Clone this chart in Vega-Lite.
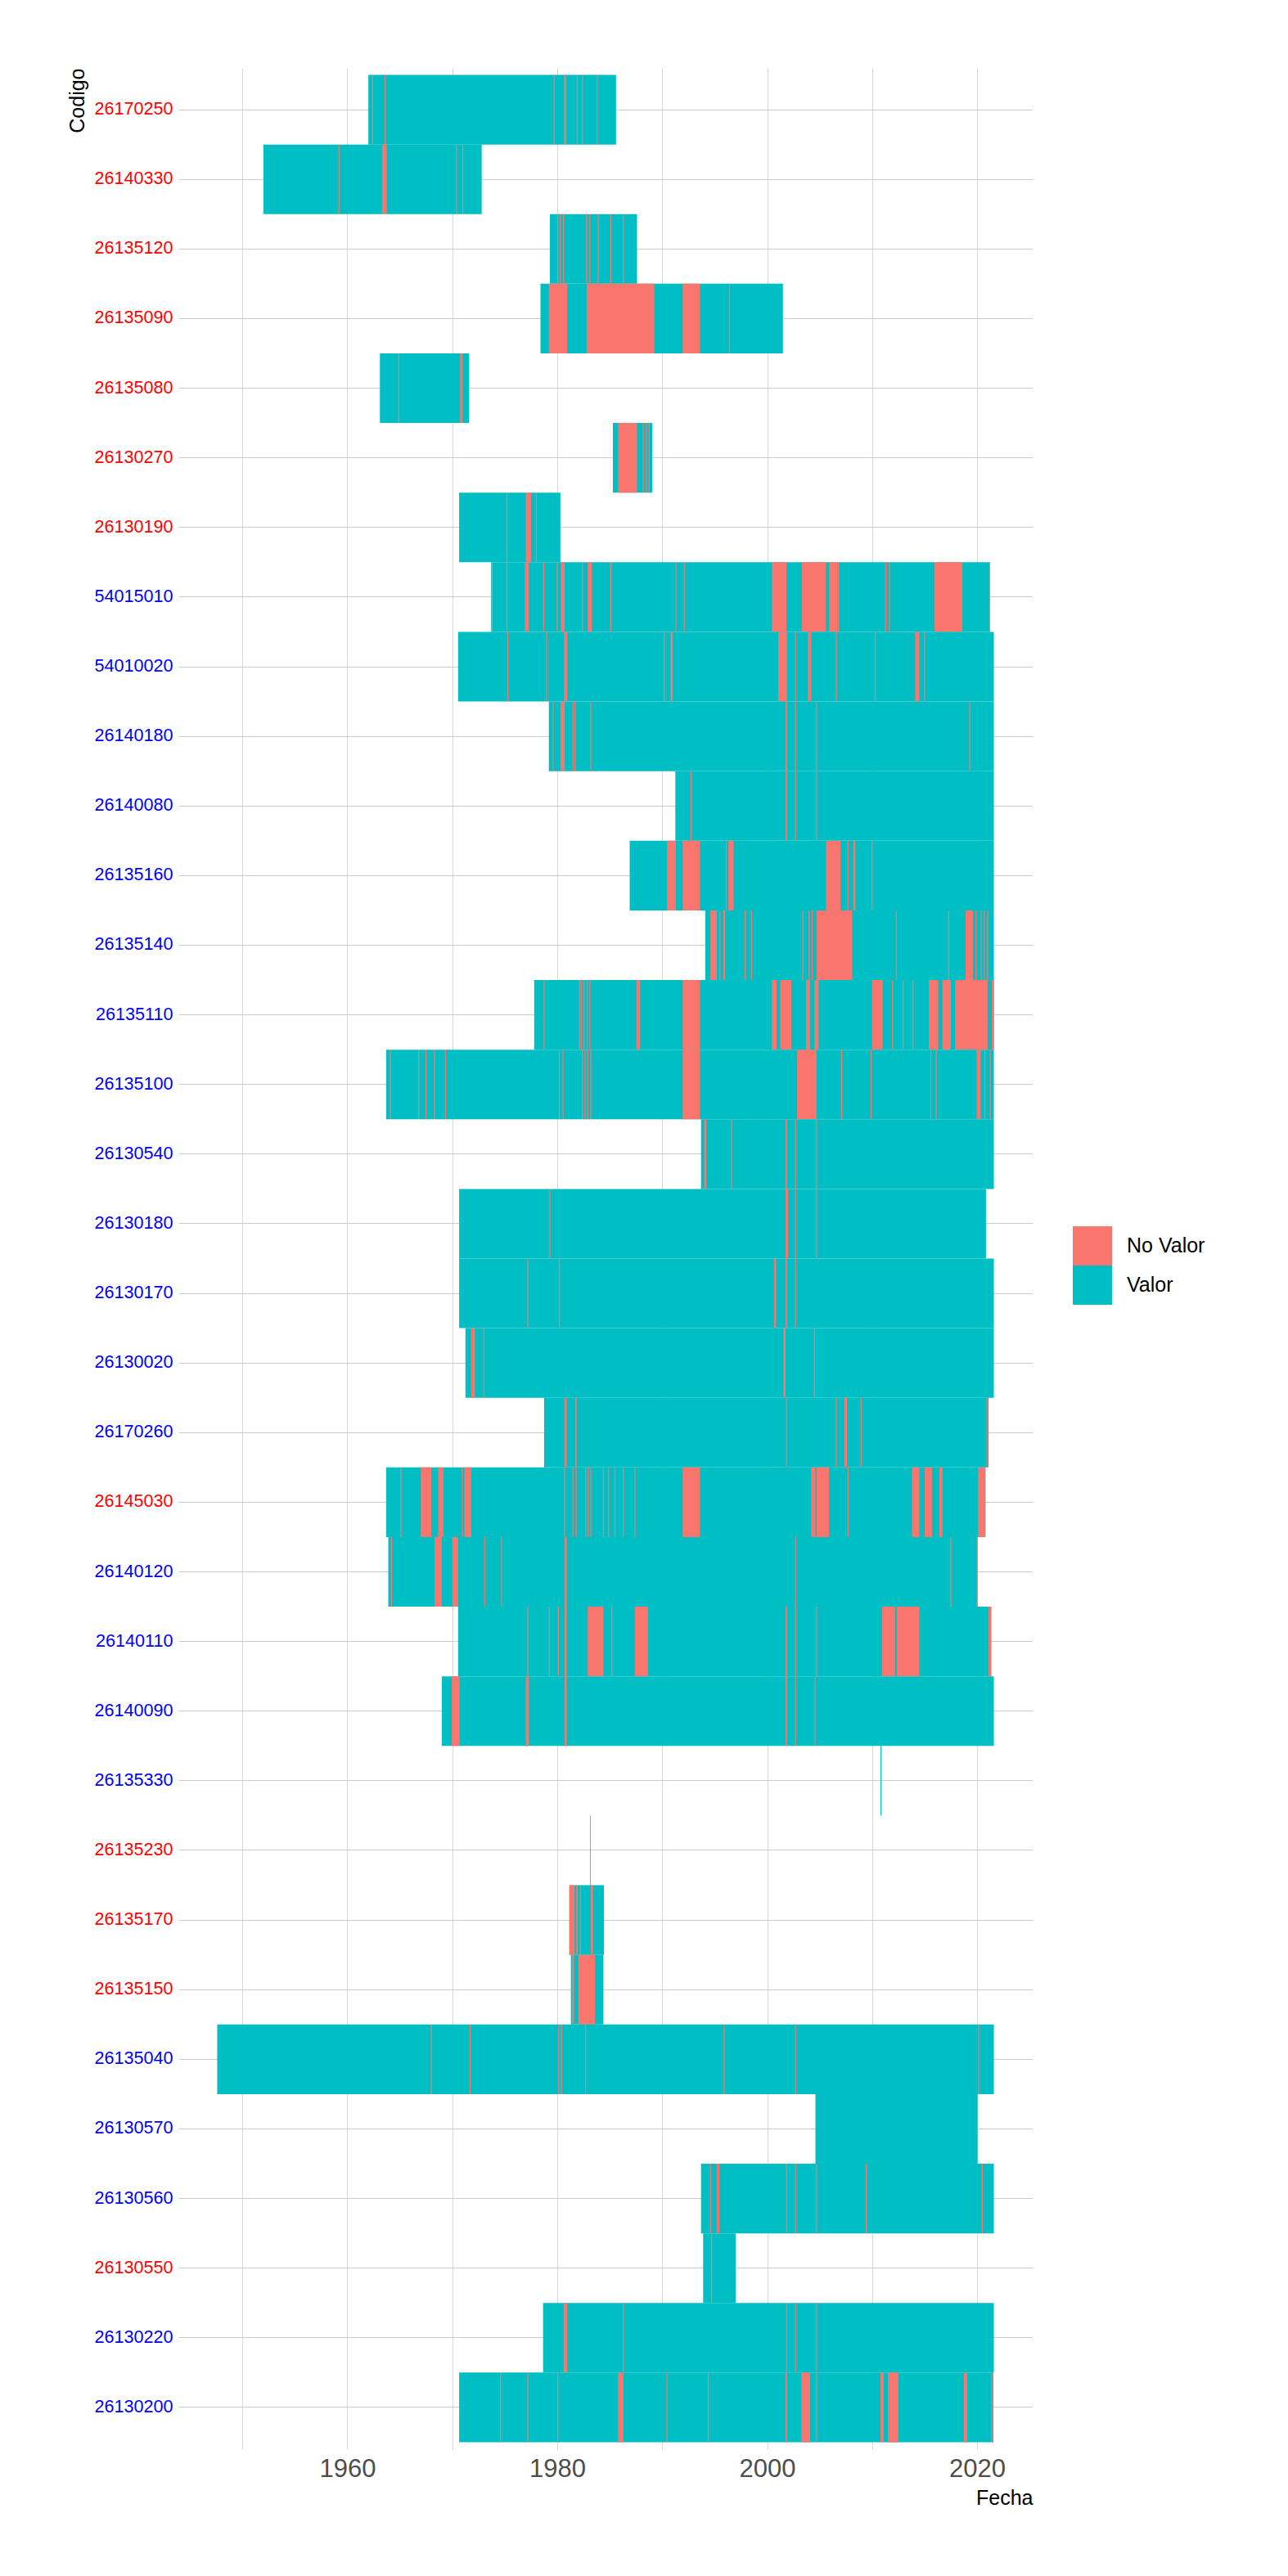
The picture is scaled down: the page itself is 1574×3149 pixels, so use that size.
{
"$schema": "https://vega.github.io/schema/vega-lite/v6.json",
"width": 1044, "height": 2911,
"autosize": {"type": "none"},
"padding": {"left": 218, "top": 83, "right": 312, "bottom": 155},
"background": "white",
"config": {"view": {"stroke": null}, "font": "Liberation Sans"},
"data": {"values": [
{"c":"26170250","s":1962.0,"e":1985.6,"v":"Valor"},
{"c":"26170250","s":1962.35,"e":1962.45,"v":"No Valor"},
{"c":"26170250","s":1963.55,"e":1963.65,"v":"No Valor"},
{"c":"26170250","s":1979.65,"e":1979.75,"v":"No Valor"},
{"c":"26170250","s":1980.65,"e":1980.85,"v":"No Valor"},
{"c":"26170250","s":1981.85,"e":1981.95,"v":"No Valor"},
{"c":"26170250","s":1982.35,"e":1982.45,"v":"No Valor"},
{"c":"26170250","s":1983.75,"e":1983.85,"v":"No Valor"},
{"c":"26140330","s":1952.0,"e":1972.8,"v":"Valor"},
{"c":"26140330","s":1959.15,"e":1959.25,"v":"No Valor"},
{"c":"26140330","s":1963.3,"e":1963.75,"v":"No Valor"},
{"c":"26140330","s":1970.35,"e":1970.45,"v":"No Valor"},
{"c":"26140330","s":1970.95,"e":1971.05,"v":"No Valor"},
{"c":"26135120","s":1979.3,"e":1987.6,"v":"Valor"},
{"c":"26135120","s":1980.0,"e":1980.1,"v":"No Valor"},
{"c":"26135120","s":1980.25,"e":1980.35,"v":"No Valor"},
{"c":"26135120","s":1980.55,"e":1980.65,"v":"No Valor"},
{"c":"26135120","s":1982.75,"e":1982.85,"v":"No Valor"},
{"c":"26135120","s":1983.05,"e":1983.15,"v":"No Valor"},
{"c":"26135120","s":1983.85,"e":1983.95,"v":"No Valor"},
{"c":"26135120","s":1985.05,"e":1985.15,"v":"No Valor"},
{"c":"26135120","s":1986.25,"e":1986.35,"v":"No Valor"},
{"c":"26135090","s":1978.4,"e":2001.5,"v":"Valor"},
{"c":"26135090","s":1979.2,"e":1980.95,"v":"No Valor"},
{"c":"26135090","s":1982.8,"e":1989.25,"v":"No Valor"},
{"c":"26135090","s":1991.95,"e":1993.6,"v":"No Valor"},
{"c":"26135090","s":1996.35,"e":1996.45,"v":"No Valor"},
{"c":"26135080","s":1963.1,"e":1971.6,"v":"Valor"},
{"c":"26135080","s":1964.85,"e":1964.95,"v":"No Valor"},
{"c":"26135080","s":1970.75,"e":1970.95,"v":"No Valor"},
{"c":"26130270","s":1985.3,"e":1989.05,"v":"Valor"},
{"c":"26130270","s":1985.8,"e":1987.6,"v":"No Valor"},
{"c":"26130270","s":1988.15,"e":1988.25,"v":"No Valor"},
{"c":"26130270","s":1988.45,"e":1988.55,"v":"No Valor"},
{"c":"26130270","s":1988.7,"e":1988.8,"v":"No Valor"},
{"c":"26130190","s":1970.65,"e":1980.3,"v":"Valor"},
{"c":"26130190","s":1975.15,"e":1975.25,"v":"No Valor"},
{"c":"26130190","s":1977.0,"e":1977.5,"v":"No Valor"},
{"c":"26130190","s":1977.95,"e":1978.05,"v":"No Valor"},
{"c":"54015010","s":1973.7,"e":2021.25,"v":"Valor"},
{"c":"54015010","s":1973.75,"e":1973.85,"v":"No Valor"},
{"c":"54015010","s":1975.15,"e":1975.25,"v":"No Valor"},
{"c":"54015010","s":1976.9,"e":1977.3,"v":"No Valor"},
{"c":"54015010","s":1978.65,"e":1978.75,"v":"No Valor"},
{"c":"54015010","s":1979.95,"e":1980.05,"v":"No Valor"},
{"c":"54015010","s":1980.35,"e":1980.7,"v":"No Valor"},
{"c":"54015010","s":1982.35,"e":1982.45,"v":"No Valor"},
{"c":"54015010","s":1982.9,"e":1983.3,"v":"No Valor"},
{"c":"54015010","s":1985.05,"e":1985.15,"v":"No Valor"},
{"c":"54015010","s":1991.25,"e":1991.35,"v":"No Valor"},
{"c":"54015010","s":1992.05,"e":1992.15,"v":"No Valor"},
{"c":"54015010","s":2000.45,"e":2001.85,"v":"No Valor"},
{"c":"54015010","s":2003.3,"e":2005.6,"v":"No Valor"},
{"c":"54015010","s":2005.9,"e":2006.7,"v":"No Valor"},
{"c":"54015010","s":2006.75,"e":2006.85,"v":"No Valor"},
{"c":"54015010","s":2011.25,"e":2011.35,"v":"No Valor"},
{"c":"54015010","s":2011.6,"e":2011.7,"v":"No Valor"},
{"c":"54015010","s":2015.95,"e":2018.6,"v":"No Valor"},
{"c":"54015010","s":2021.15,"e":2021.25,"v":"No Valor"},
{"c":"54010020","s":1970.55,"e":2021.6,"v":"Valor"},
{"c":"54010020","s":1975.25,"e":1975.35,"v":"No Valor"},
{"c":"54010020","s":1978.95,"e":1979.05,"v":"No Valor"},
{"c":"54010020","s":1980.65,"e":1980.95,"v":"No Valor"},
{"c":"54010020","s":1990.15,"e":1990.25,"v":"No Valor"},
{"c":"54010020","s":1990.8,"e":1991.0,"v":"No Valor"},
{"c":"54010020","s":2001.05,"e":2001.9,"v":"No Valor"},
{"c":"54010020","s":2002.65,"e":2002.75,"v":"No Valor"},
{"c":"54010020","s":2003.9,"e":2004.2,"v":"No Valor"},
{"c":"54010020","s":2006.55,"e":2006.65,"v":"No Valor"},
{"c":"54010020","s":2010.25,"e":2010.35,"v":"No Valor"},
{"c":"54010020","s":2014.1,"e":2014.5,"v":"No Valor"},
{"c":"54010020","s":2014.95,"e":2015.05,"v":"No Valor"},
{"c":"26140180","s":1979.2,"e":2021.6,"v":"Valor"},
{"c":"26140180","s":1979.55,"e":1979.65,"v":"No Valor"},
{"c":"26140180","s":1980.3,"e":1980.7,"v":"No Valor"},
{"c":"26140180","s":1981.45,"e":1981.55,"v":"No Valor"},
{"c":"26140180","s":1981.65,"e":1981.75,"v":"No Valor"},
{"c":"26140180","s":1983.15,"e":1983.25,"v":"No Valor"},
{"c":"26140180","s":2001.75,"e":2001.9,"v":"No Valor"},
{"c":"26140180","s":2002.65,"e":2002.75,"v":"No Valor"},
{"c":"26140180","s":2004.65,"e":2004.75,"v":"No Valor"},
{"c":"26140180","s":2019.25,"e":2019.35,"v":"No Valor"},
{"c":"26140080","s":1991.25,"e":2021.6,"v":"Valor"},
{"c":"26140080","s":1992.7,"e":1992.8,"v":"No Valor"},
{"c":"26140080","s":2001.75,"e":2001.9,"v":"No Valor"},
{"c":"26140080","s":2002.65,"e":2002.75,"v":"No Valor"},
{"c":"26140080","s":2004.65,"e":2004.75,"v":"No Valor"},
{"c":"26135160","s":1986.9,"e":2021.6,"v":"Valor"},
{"c":"26135160","s":1990.45,"e":1991.3,"v":"No Valor"},
{"c":"26135160","s":1991.95,"e":1993.6,"v":"No Valor"},
{"c":"26135160","s":1996.05,"e":1996.15,"v":"No Valor"},
{"c":"26135160","s":1996.3,"e":1996.8,"v":"No Valor"},
{"c":"26135160","s":2005.6,"e":2007.0,"v":"No Valor"},
{"c":"26135160","s":2007.65,"e":2007.75,"v":"No Valor"},
{"c":"26135160","s":2008.2,"e":2008.4,"v":"No Valor"},
{"c":"26135160","s":2009.95,"e":2010.05,"v":"No Valor"},
{"c":"26135140","s":1994.1,"e":2021.6,"v":"Valor"},
{"c":"26135140","s":1994.6,"e":1995.2,"v":"No Valor"},
{"c":"26135140","s":1995.45,"e":1995.55,"v":"No Valor"},
{"c":"26135140","s":1995.8,"e":1996.0,"v":"No Valor"},
{"c":"26135140","s":1997.85,"e":1997.95,"v":"No Valor"},
{"c":"26135140","s":1998.45,"e":1998.55,"v":"No Valor"},
{"c":"26135140","s":2003.35,"e":2003.45,"v":"No Valor"},
{"c":"26135140","s":2003.95,"e":2004.05,"v":"No Valor"},
{"c":"26135140","s":2004.25,"e":2004.35,"v":"No Valor"},
{"c":"26135140","s":2004.7,"e":2008.1,"v":"No Valor"},
{"c":"26135140","s":2012.25,"e":2012.35,"v":"No Valor"},
{"c":"26135140","s":2017.25,"e":2017.35,"v":"No Valor"},
{"c":"26135140","s":2018.9,"e":2019.6,"v":"No Valor"},
{"c":"26135140","s":2019.85,"e":2019.95,"v":"No Valor"},
{"c":"26135140","s":2020.35,"e":2020.45,"v":"No Valor"},
{"c":"26135140","s":2020.65,"e":2020.75,"v":"No Valor"},
{"c":"26135140","s":2020.95,"e":2021.05,"v":"No Valor"},
{"c":"26135110","s":1977.8,"e":2021.6,"v":"Valor"},
{"c":"26135110","s":1978.7,"e":1978.8,"v":"No Valor"},
{"c":"26135110","s":1982.05,"e":1982.15,"v":"No Valor"},
{"c":"26135110","s":1982.25,"e":1982.35,"v":"No Valor"},
{"c":"26135110","s":1982.5,"e":1982.6,"v":"No Valor"},
{"c":"26135110","s":1982.8,"e":1982.9,"v":"No Valor"},
{"c":"26135110","s":1983.05,"e":1983.15,"v":"No Valor"},
{"c":"26135110","s":1987.55,"e":1987.9,"v":"No Valor"},
{"c":"26135110","s":1991.95,"e":1993.6,"v":"No Valor"},
{"c":"26135110","s":2000.45,"e":2000.9,"v":"No Valor"},
{"c":"26135110","s":2001.25,"e":2002.3,"v":"No Valor"},
{"c":"26135110","s":2003.7,"e":2004.1,"v":"No Valor"},
{"c":"26135110","s":2004.5,"e":2004.9,"v":"No Valor"},
{"c":"26135110","s":2010.0,"e":2011.0,"v":"No Valor"},
{"c":"26135110","s":2011.9,"e":2012.0,"v":"No Valor"},
{"c":"26135110","s":2012.9,"e":2013.0,"v":"No Valor"},
{"c":"26135110","s":2013.85,"e":2013.95,"v":"No Valor"},
{"c":"26135110","s":2015.4,"e":2016.3,"v":"No Valor"},
{"c":"26135110","s":2016.7,"e":2017.5,"v":"No Valor"},
{"c":"26135110","s":2017.9,"e":2021.0,"v":"No Valor"},
{"c":"26135110","s":2021.4,"e":2021.6,"v":"No Valor"},
{"c":"26135100","s":1963.7,"e":2021.6,"v":"Valor"},
{"c":"26135100","s":1964.05,"e":1964.15,"v":"No Valor"},
{"c":"26135100","s":1966.75,"e":1966.85,"v":"No Valor"},
{"c":"26135100","s":1967.45,"e":1967.55,"v":"No Valor"},
{"c":"26135100","s":1968.25,"e":1968.35,"v":"No Valor"},
{"c":"26135100","s":1969.3,"e":1969.4,"v":"No Valor"},
{"c":"26135100","s":1980.15,"e":1980.25,"v":"No Valor"},
{"c":"26135100","s":1980.5,"e":1980.6,"v":"No Valor"},
{"c":"26135100","s":1982.35,"e":1982.45,"v":"No Valor"},
{"c":"26135100","s":1982.6,"e":1982.7,"v":"No Valor"},
{"c":"26135100","s":1982.85,"e":1982.95,"v":"No Valor"},
{"c":"26135100","s":1983.15,"e":1983.25,"v":"No Valor"},
{"c":"26135100","s":1991.95,"e":1993.6,"v":"No Valor"},
{"c":"26135100","s":2002.85,"e":2004.7,"v":"No Valor"},
{"c":"26135100","s":2007.05,"e":2007.15,"v":"No Valor"},
{"c":"26135100","s":2009.85,"e":2009.95,"v":"No Valor"},
{"c":"26135100","s":2015.55,"e":2015.65,"v":"No Valor"},
{"c":"26135100","s":2016.05,"e":2016.15,"v":"No Valor"},
{"c":"26135100","s":2019.95,"e":2020.35,"v":"No Valor"},
{"c":"26135100","s":2020.7,"e":2020.8,"v":"No Valor"},
{"c":"26135100","s":2021.2,"e":2021.3,"v":"No Valor"},
{"c":"26130540","s":1993.7,"e":2021.6,"v":"Valor"},
{"c":"26130540","s":1994.0,"e":1994.2,"v":"No Valor"},
{"c":"26130540","s":1996.55,"e":1996.65,"v":"No Valor"},
{"c":"26130540","s":2001.75,"e":2001.9,"v":"No Valor"},
{"c":"26130540","s":2002.65,"e":2002.75,"v":"No Valor"},
{"c":"26130540","s":2004.65,"e":2004.75,"v":"No Valor"},
{"c":"26130180","s":1970.65,"e":2020.85,"v":"Valor"},
{"c":"26130180","s":1979.25,"e":1979.35,"v":"No Valor"},
{"c":"26130180","s":2001.75,"e":2002.0,"v":"No Valor"},
{"c":"26130180","s":2002.65,"e":2002.75,"v":"No Valor"},
{"c":"26130180","s":2004.65,"e":2004.75,"v":"No Valor"},
{"c":"26130170","s":1970.65,"e":2021.6,"v":"Valor"},
{"c":"26130170","s":1977.15,"e":1977.25,"v":"No Valor"},
{"c":"26130170","s":1980.15,"e":1980.25,"v":"No Valor"},
{"c":"26130170","s":2000.65,"e":2000.85,"v":"No Valor"},
{"c":"26130170","s":2001.75,"e":2001.9,"v":"No Valor"},
{"c":"26130170","s":2002.65,"e":2002.75,"v":"No Valor"},
{"c":"26130020","s":1971.25,"e":2021.6,"v":"Valor"},
{"c":"26130020","s":1971.8,"e":1972.15,"v":"No Valor"},
{"c":"26130020","s":1972.95,"e":1973.05,"v":"No Valor"},
{"c":"26130020","s":2001.55,"e":2001.75,"v":"No Valor"},
{"c":"26130020","s":2004.45,"e":2004.55,"v":"No Valor"},
{"c":"26170260","s":1978.75,"e":2021.1,"v":"Valor"},
{"c":"26170260","s":1980.7,"e":1980.9,"v":"No Valor"},
{"c":"26170260","s":1981.7,"e":1981.85,"v":"No Valor"},
{"c":"26170260","s":2001.8,"e":2001.9,"v":"No Valor"},
{"c":"26170260","s":2006.55,"e":2006.65,"v":"No Valor"},
{"c":"26170260","s":2007.35,"e":2007.6,"v":"No Valor"},
{"c":"26170260","s":2008.9,"e":2009.0,"v":"No Valor"},
{"c":"26170260","s":2020.9,"e":2021.0,"v":"No Valor"},
{"c":"26145030","s":1963.7,"e":2020.8,"v":"Valor"},
{"c":"26145030","s":1965.05,"e":1965.15,"v":"No Valor"},
{"c":"26145030","s":1967.0,"e":1968.0,"v":"No Valor"},
{"c":"26145030","s":1968.65,"e":1969.15,"v":"No Valor"},
{"c":"26145030","s":1970.9,"e":1971.0,"v":"No Valor"},
{"c":"26145030","s":1971.15,"e":1971.8,"v":"No Valor"},
{"c":"26145030","s":1980.65,"e":1980.75,"v":"No Valor"},
{"c":"26145030","s":1981.45,"e":1981.55,"v":"No Valor"},
{"c":"26145030","s":1981.75,"e":1981.85,"v":"No Valor"},
{"c":"26145030","s":1982.65,"e":1982.75,"v":"No Valor"},
{"c":"26145030","s":1982.9,"e":1983.0,"v":"No Valor"},
{"c":"26145030","s":1983.15,"e":1983.25,"v":"No Valor"},
{"c":"26145030","s":1984.35,"e":1984.45,"v":"No Valor"},
{"c":"26145030","s":1984.85,"e":1984.95,"v":"No Valor"},
{"c":"26145030","s":1985.45,"e":1985.55,"v":"No Valor"},
{"c":"26145030","s":1986.25,"e":1986.35,"v":"No Valor"},
{"c":"26145030","s":1987.35,"e":1987.45,"v":"No Valor"},
{"c":"26145030","s":1991.95,"e":1993.6,"v":"No Valor"},
{"c":"26145030","s":2004.2,"e":2004.6,"v":"No Valor"},
{"c":"26145030","s":2004.7,"e":2005.9,"v":"No Valor"},
{"c":"26145030","s":2007.65,"e":2007.75,"v":"No Valor"},
{"c":"26145030","s":2013.8,"e":2014.5,"v":"No Valor"},
{"c":"26145030","s":2015.0,"e":2015.7,"v":"No Valor"},
{"c":"26145030","s":2016.4,"e":2016.7,"v":"No Valor"},
{"c":"26145030","s":2020.1,"e":2020.8,"v":"No Valor"},
{"c":"26140120","s":1963.9,"e":2020.05,"v":"Valor"},
{"c":"26140120","s":1964.15,"e":1964.25,"v":"No Valor"},
{"c":"26140120","s":1968.3,"e":1969.0,"v":"No Valor"},
{"c":"26140120","s":1970.0,"e":1970.55,"v":"No Valor"},
{"c":"26140120","s":1973.05,"e":1973.15,"v":"No Valor"},
{"c":"26140120","s":1974.65,"e":1974.75,"v":"No Valor"},
{"c":"26140120","s":1980.7,"e":1980.9,"v":"No Valor"},
{"c":"26140120","s":2002.65,"e":2002.75,"v":"No Valor"},
{"c":"26140120","s":2017.45,"e":2017.55,"v":"No Valor"},
{"c":"26140120","s":2019.95,"e":2020.05,"v":"No Valor"},
{"c":"26140110","s":1970.55,"e":2021.35,"v":"Valor"},
{"c":"26140110","s":1977.15,"e":1977.25,"v":"No Valor"},
{"c":"26140110","s":1979.2,"e":1979.3,"v":"No Valor"},
{"c":"26140110","s":1980.05,"e":1980.15,"v":"No Valor"},
{"c":"26140110","s":1980.7,"e":1980.9,"v":"No Valor"},
{"c":"26140110","s":1982.9,"e":1984.4,"v":"No Valor"},
{"c":"26140110","s":1985.15,"e":1985.25,"v":"No Valor"},
{"c":"26140110","s":1987.4,"e":1988.65,"v":"No Valor"},
{"c":"26140110","s":2001.75,"e":2001.9,"v":"No Valor"},
{"c":"26140110","s":2002.65,"e":2002.75,"v":"No Valor"},
{"c":"26140110","s":2004.65,"e":2004.75,"v":"No Valor"},
{"c":"26140110","s":2010.95,"e":2012.2,"v":"No Valor"},
{"c":"26140110","s":2012.35,"e":2014.5,"v":"No Valor"},
{"c":"26140110","s":2021.1,"e":2021.35,"v":"No Valor"},
{"c":"26140090","s":1969.0,"e":2021.6,"v":"Valor"},
{"c":"26140090","s":1969.95,"e":1970.7,"v":"No Valor"},
{"c":"26140090","s":1977.0,"e":1977.3,"v":"No Valor"},
{"c":"26140090","s":1980.7,"e":1980.9,"v":"No Valor"},
{"c":"26140090","s":2001.75,"e":2001.9,"v":"No Valor"},
{"c":"26140090","s":2002.65,"e":2002.75,"v":"No Valor"},
{"c":"26140090","s":2004.5,"e":2004.6,"v":"No Valor"},
{"c":"26135330","s":2010.8,"e":2010.9,"v":"Valor"},
{"c":"26135230","s":1983.12,"e":1983.18,"v":"Valor"},
{"c":"26135170","s":1981.15,"e":1984.45,"v":"Valor"},
{"c":"26135170","s":1981.15,"e":1981.65,"v":"No Valor"},
{"c":"26135170","s":1981.8,"e":1981.95,"v":"No Valor"},
{"c":"26135170","s":1982.15,"e":1982.25,"v":"No Valor"},
{"c":"26135170","s":1983.2,"e":1983.4,"v":"No Valor"},
{"c":"26135150","s":1981.3,"e":1984.4,"v":"Valor"},
{"c":"26135150","s":1981.4,"e":1981.6,"v":"No Valor"},
{"c":"26135150","s":1982.0,"e":1983.6,"v":"No Valor"},
{"c":"26135040","s":1947.6,"e":2021.6,"v":"Valor"},
{"c":"26135040","s":1967.95,"e":1968.05,"v":"No Valor"},
{"c":"26135040","s":1971.65,"e":1971.75,"v":"No Valor"},
{"c":"26135040","s":1980.1,"e":1980.2,"v":"No Valor"},
{"c":"26135040","s":1980.35,"e":1980.45,"v":"No Valor"},
{"c":"26135040","s":1982.65,"e":1982.75,"v":"No Valor"},
{"c":"26135040","s":1995.85,"e":1995.95,"v":"No Valor"},
{"c":"26135040","s":2002.65,"e":2002.75,"v":"No Valor"},
{"c":"26135040","s":2020.1,"e":2020.2,"v":"No Valor"},
{"c":"26130570","s":2004.6,"e":2020.05,"v":"Valor"},
{"c":"26130560","s":1993.7,"e":2021.6,"v":"Valor"},
{"c":"26130560","s":1994.55,"e":1994.65,"v":"No Valor"},
{"c":"26130560","s":1995.2,"e":1995.3,"v":"No Valor"},
{"c":"26130560","s":1995.35,"e":1995.45,"v":"No Valor"},
{"c":"26130560","s":2001.8,"e":2001.9,"v":"No Valor"},
{"c":"26130560","s":2002.65,"e":2002.75,"v":"No Valor"},
{"c":"26130560","s":2004.65,"e":2004.75,"v":"No Valor"},
{"c":"26130560","s":2009.4,"e":2009.5,"v":"No Valor"},
{"c":"26130560","s":2020.45,"e":2020.55,"v":"No Valor"},
{"c":"26130550","s":1993.9,"e":1997.0,"v":"Valor"},
{"c":"26130550","s":1994.65,"e":1994.75,"v":"No Valor"},
{"c":"26130220","s":1978.65,"e":2021.6,"v":"Valor"},
{"c":"26130220","s":1980.6,"e":1980.95,"v":"No Valor"},
{"c":"26130220","s":1986.25,"e":1986.35,"v":"No Valor"},
{"c":"26130220","s":2001.8,"e":2001.9,"v":"No Valor"},
{"c":"26130220","s":2002.65,"e":2002.75,"v":"No Valor"},
{"c":"26130220","s":2004.65,"e":2004.75,"v":"No Valor"},
{"c":"26130200","s":1970.65,"e":2021.55,"v":"Valor"},
{"c":"26130200","s":1974.55,"e":1974.65,"v":"No Valor"},
{"c":"26130200","s":1977.15,"e":1977.25,"v":"No Valor"},
{"c":"26130200","s":1980.0,"e":1980.1,"v":"No Valor"},
{"c":"26130200","s":1985.8,"e":1986.3,"v":"No Valor"},
{"c":"26130200","s":1990.4,"e":1990.5,"v":"No Valor"},
{"c":"26130200","s":1994.35,"e":1994.45,"v":"No Valor"},
{"c":"26130200","s":2001.75,"e":2001.9,"v":"No Valor"},
{"c":"26130200","s":2003.25,"e":2004.1,"v":"No Valor"},
{"c":"26130200","s":2004.65,"e":2004.75,"v":"No Valor"},
{"c":"26130200","s":2010.8,"e":2011.1,"v":"No Valor"},
{"c":"26130200","s":2011.5,"e":2012.5,"v":"No Valor"},
{"c":"26130200","s":2018.75,"e":2019.05,"v":"No Valor"},
{"c":"26130200","s":2021.35,"e":2021.45,"v":"No Valor"}
]},
"mark": {"type": "bar"},
"encoding": {
  "y": {"field": "c", "type": "nominal",
    "scale": {"domain": ["26170250","26140330","26135120","26135090","26135080","26130270","26130190","54015010","54010020","26140180","26140080","26135160","26135140","26135110","26135100","26130540","26130180","26130170","26130020","26170260","26145030","26140120","26140110","26140090","26135330","26135230","26135170","26135150","26135040","26130570","26130560","26130550","26130220","26130200"], "paddingInner": 0, "paddingOuter": 0.1},
    "axis": {"title": "Codigo", "titleFontSize": 25, "titleFontWeight": "normal", "titleColor": "black", "titleAngle": 270, "titleX": -116, "titleY": 0, "titleAlign": "right", "titleBaseline": "alphabetic",
      "labelFontSize": 21.6, "labelColor": {"condition": {"test": "indexof(['26170250','26140330','26135120','26135090','26135080','26130270','26130190','26145030','26135230','26135170','26135150','26130550'], datum.value) >= 0", "value": "#FF0000"}, "value": "#0000FF"},
      "ticks": false, "labelPadding": 7, "domain": false, "grid": true, "gridColor": "#CCCCCC", "gridWidth": 1.1, "bandPosition": 0.5}},
  "x": {"field": "s", "type": "quantitative",
    "scale": {"domain": [1943.9, 2025.3], "nice": false, "zero": false},
    "axis": {"title": "Fecha", "titleFontSize": 25, "titleFontWeight": "normal", "titleColor": "black", "titleX": 1044, "titleY": 67, "titleAlign": "right", "titleBaseline": "alphabetic",
      "values": [1950,1960,1970,1980,1990,2000,2010,2020], "format": "d", "labelExpr": "datum.value % 20 == 0 ? datum.label : ''", "labelOverlap": false,
      "labelFontSize": 31, "labelColor": "#4D4D4D", "ticks": false, "labelPadding": 9, "domain": false, "grid": true, "gridColor": "#D4D4D4", "gridWidth": 0.9}},
  "x2": {"field": "e"},
  "color": {"field": "v", "type": "nominal",
    "scale": {"domain": ["No Valor","Valor"], "range": ["#F8766D","#00BFC4"]},
    "legend": {"title": null, "orient": "none", "legendX": 1093, "legendY": 1416, "symbolType": "square", "symbolSize": 2304, "symbolStrokeWidth": 0, "symbolOpacity": 1, "labelFontSize": 25, "labelColor": "black", "rowPadding": 0, "labelOffset": 18, "padding": 0}}
}
}
